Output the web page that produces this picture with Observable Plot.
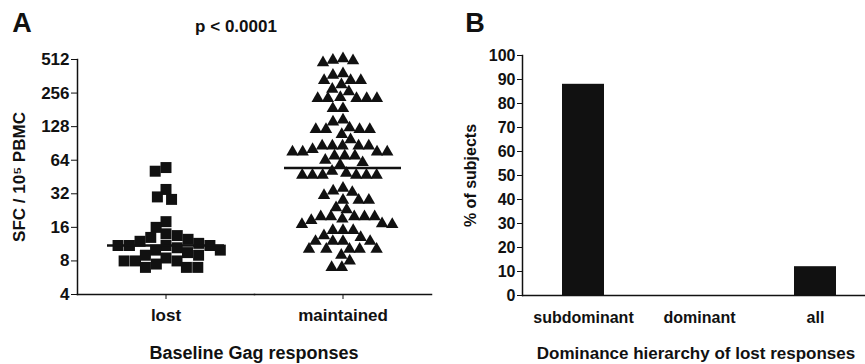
<!DOCTYPE html>
<html><head><meta charset="utf-8">
<script src="https://cdn.jsdelivr.net/npm/d3@7"></script>
<script src="https://cdn.jsdelivr.net/npm/@observablehq/plot@0.6"></script>
<style>
body{margin:0;background:#fff;font-family:"Liberation Sans",Arial,sans-serif;}
#wrap{position:relative;width:865px;height:364px;overflow:hidden;}
#wrap svg{position:absolute;top:0;}
.lab{position:absolute;font-weight:bold;color:#111;white-space:nowrap;transform:translate(-50%,-50%);line-height:1;}
</style></head><body>
<div id="wrap"></div>
<script>
// ---- Panel A data ----
const groups = ["lost", "maintained"];
const lostValues = [55, 51, 35, 30, 28.5, 18, 16, 14, 13.5, 13, 12.5, 12, 11.5, 11, 11, 11, 11, 10.5, 10, 10, 9.5, 9, 9, 8.5, 8, 8, 8, 7.5, 7, 7, 7];
const maintainedValues = [520, 505, 500, 480, 383, 370, 333, 333, 333, 304, 277, 263, 234, 229, 229, 229, 229, 229, 186, 186, 147, 141, 125, 121, 121, 121, 121, 109, 98, 86, 86, 86, 86, 86, 80, 76, 76, 76, 76, 70, 70, 70, 64, 61, 58, 49, 51, 47, 47, 47, 47, 47, 47, 36, 34, 33, 31, 28, 28, 28, 24, 23, 20, 20, 20, 20, 20, 19, 18.5, 17.3, 17, 17, 15, 15, 15, 13.5, 13, 12, 12, 12, 12, 10.2, 10.2, 10.2, 10.2, 10.2, 9, 8, 7, 7];
const yTicksA = [4, 8, 16, 32, 64, 128, 256, 512];
// ---- Panel B data ----
const hierarchyCategories = ["subdominant", "dominant", "all"];
const hierarchyPercent = [88, 0, 12];
const yTicksB = [0, 10, 20, 30, 40, 50, 60, 70, 80, 90, 100];

const rows = [
  ...lostValues.map(v => ({group: "lost", value: v})),
  ...maintainedValues.map(v => ({group: "maintained", value: v}))
];
const barRows = hierarchyCategories.map((c, i) => ({category: c, percent: hierarchyPercent[i]}));

const ink = "#111";
const baseStyle = {fontFamily: "'Liberation Sans', Arial, sans-serif", fontWeight: "bold", fontSize: "16px", color: ink, background: "white", overflow: "visible"};

const chartA = Plot.plot({
  width: 440, height: 364,
  marginLeft: 77, marginRight: 9, marginTop: 59, marginBottom: 70,
  style: baseStyle,
  fx: {domain: groups, padding: 0},
  y: {type: "log", base: 2, domain: [4, 512]},
  marks: [
    Plot.frame({anchor: "left", facetAnchor: "left", stroke: ink, strokeWidth: 1.5}),
    Plot.frame({anchor: "bottom", stroke: ink, strokeWidth: 1.5}),
    Plot.axisY({ticks: yTicksA, tickFormat: d => String(d), tickSize: 6, tickPadding: 2, label: "SFC / 10⁵ PBMC", labelArrow: "none", labelAnchor: "center", labelOffset: 65, fontSize: 17, stroke: ink}),
    Plot.axisFx({anchor: "bottom", tickSize: 5, tickPadding: 9, label: null, fontSize: 17}),
    Plot.dot(rows.filter(d => d.group === "lost"), Plot.dodgeX({anchor: "middle", padding: -1}, {fx: "group", y: "value", r: 6.2, symbol: "square", fill: ink})),
    Plot.dot(rows.filter(d => d.group === "maintained"), Plot.dodgeX({anchor: "middle", padding: 1}, {fx: "group", y: "value", r: 4.6, symbol: "triangle", fill: ink})),
    Plot.ruleY(rows, Plot.groupZ({y: "median"}, {fx: "group", y: "value", stroke: ink, strokeWidth: 2.5, insetLeft: 30, insetRight: 30}))
  ]
});

const chartB = Plot.plot({
  width: 425, height: 364,
  marginLeft: 82, marginRight: 0, marginTop: 55, marginBottom: 69,
  style: baseStyle,
  x: {domain: hierarchyCategories, paddingInner: 0.64, paddingOuter: 0.29, align: 0.58},
  y: {domain: [0, 100]},
  marks: [
    Plot.barY(barRows, {x: "category", y: "percent", fill: ink}),
    Plot.frame({anchor: "left", stroke: ink, strokeWidth: 1.5}),
    Plot.ruleY([0], {stroke: ink, strokeWidth: 1.5}),
    Plot.axisY({ticks: yTicksB, tickSize: 5, tickPadding: 2, label: "% of subjects", labelArrow: "none", labelAnchor: "center", labelOffset: 58, fontSize: 16, stroke: ink}),
    Plot.axisX({tickSize: 0, tickPadding: 16, label: null, fontSize: 16})
  ]
});

const wrap = document.getElementById("wrap");
chartA.style.left = "0px";
chartB.style.left = "440px";
wrap.appendChild(chartA);
wrap.appendChild(chartB);

const labels = [
  {text: "A", x: 22, y: 23, size: 27},
  {text: "p < 0.0001", x: 236, y: 26, size: 17},
  {text: "Baseline Gag responses", x: 254, y: 353, size: 18},
  {text: "B", x: 475, y: 23, size: 27},
  {text: "Dominance hierarchy of lost responses", x: 696, y: 353, size: 17}
];
for (const l of labels) {
  const d = document.createElement("div");
  d.className = "lab";
  d.textContent = l.text;
  d.style.left = l.x + "px";
  d.style.top = l.y + "px";
  d.style.fontSize = l.size + "px";
  wrap.appendChild(d);
}
</script>
</body></html>
